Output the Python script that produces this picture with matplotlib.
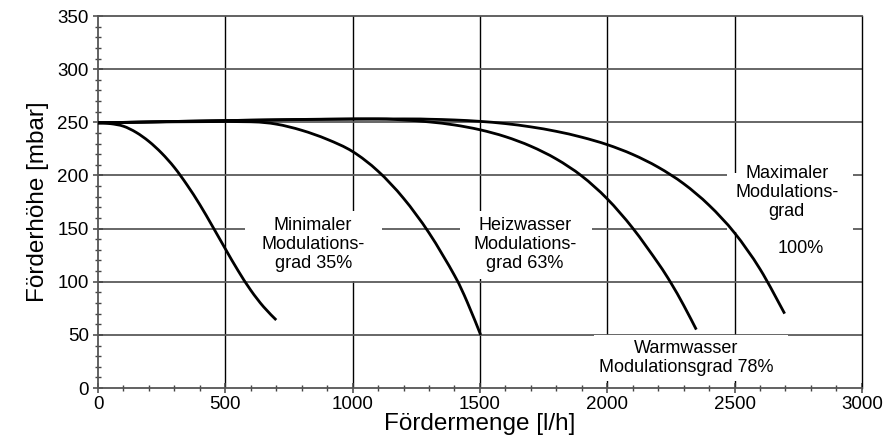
import matplotlib
matplotlib.use("Agg")
import matplotlib.pyplot as plt
from matplotlib.patches import Rectangle, PathPatch
from matplotlib.path import Path
from matplotlib.ticker import MultipleLocator

plt.rcParams['font.family'] = ['Liberation Sans', 'DejaVu Sans']

# --- Pump curves: flow [l/h] vs. head [mbar] ---
flow_min = [0, 50, 100, 150, 200, 250, 300, 350, 400, 450, 500, 550, 600, 650, 700]
head_min = [249.5, 248.7, 246.3, 240.5, 232, 221, 207.5, 191, 172.5, 152, 131, 110.5, 92, 76.5, 64]

flow_heiz = [0, 200, 400, 600, 700, 800, 900, 1000, 1100, 1200, 1300, 1400, 1450, 1503]
head_heiz = [249.5, 250.2, 250.6, 250.5, 248.3, 242.5, 234, 222.5, 204, 178.5, 146, 106, 81, 50]

flow_warm = [0, 300, 600, 900, 1100, 1200, 1300, 1400, 1500, 1600, 1700, 1800, 1900, 2000,
             2100, 2200, 2250, 2300, 2350]
head_warm = [249.5, 250.8, 252, 253, 253.2, 252.2, 250.4, 247.5, 243, 236.5, 227.5, 215.5, 199.5, 178,
             150.5, 117.5, 99, 78, 55]

flow_max = [0, 300, 600, 900, 1200, 1300, 1400, 1500, 1600, 1700, 1800, 1900, 2000,
            2100, 2200, 2300, 2400, 2500, 2600, 2697]
head_max = [249.5, 250.8, 252, 252.8, 253.2, 252.9, 252.2, 250.9, 248.8, 245.7, 241.5, 236, 229,
            219.8, 207.8, 192.3, 172, 146, 112, 70]

curves = [(flow_min, head_min), (flow_heiz, head_heiz),
          (flow_warm, head_warm), (flow_max, head_max)]

x_ticks = [0, 500, 1000, 1500, 2000, 2500, 3000]
y_ticks = [0, 50, 100, 150, 200, 250, 300, 350]


def smooth_path(xs, ys):
    """Catmull-Rom through the points, written as cubic Bezier segments."""
    pts = list(zip(xs, ys))
    n = len(pts)
    verts = [pts[0]]
    codes = [Path.MOVETO]
    for i in range(n - 1):
        p0 = pts[i - 1] if i > 0 else pts[i]
        p1 = pts[i]
        p2 = pts[i + 1]
        p3 = pts[i + 2] if i + 2 < n else pts[i + 1]
        c1 = (p1[0] + (p2[0] - p0[0]) / 6, p1[1] + (p2[1] - p0[1]) / 6)
        c2 = (p2[0] - (p3[0] - p1[0]) / 6, p2[1] - (p3[1] - p1[1]) / 6)
        verts += [c1, c2, p2]
        codes += [Path.CURVE4] * 3
    return Path(verts, codes)


def main():
    fig = plt.figure(figsize=(8.83, 4.45), dpi=100)
    ax = fig.add_axes([0.111, 0.128, 0.865, 0.836])

    ax.set_xlim(0, 3000)
    ax.set_ylim(0, 350)
    ax.set_xticks(x_ticks)
    ax.set_yticks(y_ticks)
    ax.xaxis.set_minor_locator(MultipleLocator(100))
    ax.yaxis.set_minor_locator(MultipleLocator(10))

    # grid: black verticals, grey horizontals
    for x in x_ticks[1:-1]:
        ax.axvline(x, color='black', lw=1.0, zorder=1)
    for y in y_ticks[1:-1]:
        ax.axhline(y, color='#5a5a5a', lw=1.3, zorder=1)

    for side in ['left', 'bottom', 'top']:
        ax.spines[side].set_color('#555555')
        ax.spines[side].set_linewidth(1.3)
    ax.spines['right'].set_color('black')
    ax.spines['right'].set_linewidth(1.0)

    ax.tick_params(which='major', direction='inout', length=7, width=1.1,
                   color='#444444', labelsize=13.5, pad=2,
                   top=False, right=False)
    ax.tick_params(which='minor', direction='inout', length=5, width=1.0,
                   color='#444444', top=False, right=False)
    ax.tick_params(axis='y', which='major', pad=3)

    # white blocks behind the annotations cut the grid lines
    boxes = [(577, 101, 538, 66), (1421, 103, 519, 64),
             (2469, 147, 495, 55), (1950, 7, 760, 42.5)]
    for bx, by, bw, bh in boxes:
        ax.add_patch(Rectangle((bx, by), bw, bh, facecolor='white',
                               edgecolor='none', zorder=2))

    for fx, hy in curves:
        ax.add_patch(PathPatch(smooth_path(fx, hy), facecolor='none',
                               edgecolor='black', lw=2.0, zorder=4,
                               capstyle='butt', joinstyle='round'))

    txt = dict(fontsize=13, ha='center', va='center', zorder=3,
               linespacing=1.15)
    ax.text(845, 135, 'Minimaler\nModulations-\ngrad 35%', **txt)
    ax.text(1677, 135, 'Heizwasser\nModulations-\ngrad 63%', **txt)
    ax.text(2705, 184, 'Maximaler\nModulations-\ngrad', **txt)
    ax.text(2762, 131, '100%', **txt)
    ax.text(2311, 28, 'Warmwasser\nModulationsgrad 78%', **txt)

    ax.set_xlabel('Fördermenge [l/h]', fontsize=17.5, labelpad=0.5)
    ax.set_ylabel('Förderhöhe [mbar]', fontsize=17.5, labelpad=6)

    fig.savefig('out.png', dpi=100)
    plt.close(fig)


if __name__ == '__main__':
    main()
